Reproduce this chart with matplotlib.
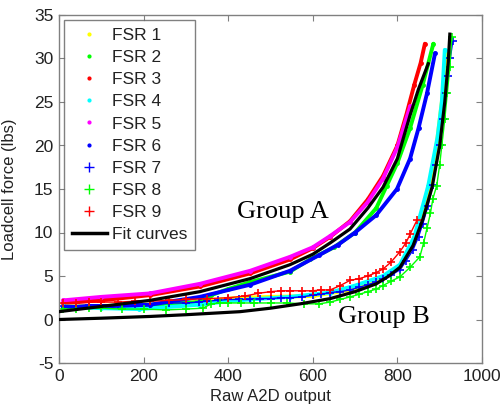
import matplotlib
matplotlib.use("Agg")
import matplotlib.pyplot as plt
from matplotlib.lines import Line2D

plt.rcParams['font.family'] = ['Liberation Sans', 'DejaVu Sans']
plt.rcParams['axes.unicode_minus'] = False

# ---------------- data ----------------
# Group A sensors
fsr3_x = [10, 100, 215, 333, 452, 546, 600, 641, 688, 730, 766, 800, 822, 840, 855, 865]
fsr3_y = [1.9, 2.2, 2.8, 3.8, 5.3, 6.9, 8.2, 9.5, 11.3, 13.8, 16.5, 20.0, 23.7, 27.0, 29.5, 31.7]

fsr5_x = [10, 100, 215, 333, 452, 546, 600, 641, 688, 730, 766, 800, 830]
fsr5_y = [2.2, 2.6, 3.0, 4.1, 5.6, 7.2, 8.3, 9.6, 11.2, 13.5, 16.2, 19.8, 24.5]

fsr6_x = [10, 100, 215, 333, 452, 546, 615, 660, 700, 750, 799, 830, 850, 870, 889]
fsr6_y = [1.4, 1.5, 1.7, 2.6, 4.0, 5.6, 7.4, 8.6, 10.0, 12.0, 15.0, 18.5, 22.0, 26.0, 30.6]

fsr2_x = [10, 100, 215, 330, 360, 400, 452, 546, 593, 650, 700, 750, 775, 800, 830, 860, 885]
fsr2_y = [1.3, 1.4, 1.6, 2.0, 2.8, 3.5, 4.3, 5.5, 6.9, 8.3, 10.0, 12.8, 15.4, 18.0, 22.0, 27.0, 31.7]

# Group B sensors
fsr1_x = [20, 150, 250, 330, 400, 428, 500, 600, 700, 766, 806, 840, 870, 890, 905, 918]
fsr1_y = [1.5, 1.6, 1.8, 2.0, 2.4, 2.5, 2.6, 2.7, 3.5, 4.8, 6.1, 9.3, 14.0, 19.0, 25.0, 30.5]

fsr4_x = [10, 100, 189, 250, 330, 400, 452, 546, 641, 700, 766, 806, 840, 873, 895, 905, 912]
fsr4_y = [1.5, 1.3, 1.2, 1.4, 1.7, 2.1, 2.3, 2.6, 3.1, 3.9, 5.0, 6.3, 9.5, 15.4, 21.0, 25.0, 31.0]

fsr7_x = [10, 40, 70, 100, 140, 180, 215, 260, 300, 330, 350, 375, 400, 425, 452, 475, 500,
          525, 546, 575, 600, 620, 641, 665, 688, 710, 730, 750, 766, 785, 806, 820, 837,
          850, 860, 872, 884, 892, 900, 908, 915, 920, 925, 931]
fsr7_y = [1.6, 1.6, 1.7, 1.7, 1.7, 1.8, 1.8, 1.9, 1.9, 2.0, 2.1, 2.2, 2.3, 2.3, 2.3, 2.4, 2.4,
          2.5, 2.5, 2.6, 2.8, 2.9, 3.1, 3.2, 3.4, 3.7, 4.0, 4.3, 4.6, 5.1, 5.7, 6.7, 8.0,
          9.5, 11.0, 13.0, 15.5, 17.8, 20.0, 23.0, 26.0, 28.0, 30.0, 32.0]

fsr8_x = [10, 40, 70, 100, 150, 200, 253, 300, 340, 360, 380, 400, 430, 460, 500, 540, 580,
          615, 641, 665, 688, 710, 730, 750, 766, 785, 806, 830, 853, 862, 870, 878, 884,
          893, 900, 905, 912, 918, 924, 929]
fsr8_y = [1.2, 1.2, 1.3, 1.3, 1.2, 1.2, 1.1, 1.2, 1.3, 1.8, 1.9, 1.9, 1.9, 1.9, 1.9, 1.9, 1.8,
          1.8, 2.0, 2.3, 2.6, 2.9, 3.2, 3.5, 3.9, 4.4, 4.9, 6.0, 7.2, 8.8, 10.5, 12.2, 13.9,
          15.4, 17.8, 20.0, 23.0, 26.0, 29.0, 32.5]

fsr9_x = [10, 40, 70, 100, 140, 180, 215, 260, 300, 350, 400, 440, 470, 500, 525, 546, 575,
          600, 620, 641, 665, 688, 710, 730, 750, 766, 785, 806, 820, 830, 846]
fsr9_y = [1.9, 1.9, 2.0, 2.0, 2.0, 2.1, 2.1, 2.2, 2.3, 2.4, 2.5, 2.7, 3.0, 3.2, 3.3, 3.3, 3.3,
          3.3, 3.4, 3.4, 3.9, 4.5, 4.7, 5.0, 5.4, 5.8, 6.6, 7.8, 8.8, 9.8, 11.4]

# Fit curves
fitA_x = [0, 100, 215, 333, 452, 546, 600, 641, 688, 730, 766, 800, 830, 850, 873]
fitA_y = [0.9, 1.5, 2.2, 3.2, 4.7, 6.3, 7.5, 8.8, 10.4, 12.8, 15.2, 18.5, 23.5, 26.5, 29.4]

fitB_x = [0, 100, 215, 300, 428, 500, 570, 641, 700, 750, 780, 806, 837, 860, 882, 900, 912, 920, 924]
fitB_y = [0.0, 0.15, 0.35, 0.55, 0.9, 1.3, 1.8, 2.4, 3.2, 4.1, 5.0, 6.0, 8.5, 11.5, 15.2, 20.0, 25.0, 29.5, 32.8]

series = [
    ("FSR 1", fsr1_x, fsr1_y, "#ffff00", "."),
    ("FSR 2", fsr2_x, fsr2_y, "#00ff00", "."),
    ("FSR 3", fsr3_x, fsr3_y, "#ff0000", "."),
    ("FSR 4", fsr4_x, fsr4_y, "#00ffff", "."),
    ("FSR 5", fsr5_x, fsr5_y, "#ff00ff", "."),
    ("FSR 6", fsr6_x, fsr6_y, "#0000ff", "."),
    ("FSR 7", fsr7_x, fsr7_y, "#0000ff", "+"),
    ("FSR 8", fsr8_x, fsr8_y, "#00ff00", "+"),
    ("FSR 9", fsr9_x, fsr9_y, "#ff0000", "+"),
]

# ---------------- figure ----------------
fig = plt.figure(figsize=(5.03, 4.04), dpi=100)
ax = fig.add_axes([59/503, 41/404, 423/503, 348/404])

handles = []
for name, xs, ys, col, mk in series:
    if mk == ".":
        ax.plot(xs, ys, '-', color=col, lw=2.8, solid_capstyle='round', zorder=2)
        ax.plot(xs, ys, '.', color=col, ms=5, zorder=2)
    else:
        ax.plot(xs, ys, '-', color=col, lw=1.0, zorder=2)
        ax.plot(xs, ys, '+', color=col, ms=6, mew=1.2, zorder=2)
    handles.append(Line2D([], [], ls='none', marker=mk, color=col,
                          ms=(4 if mk == "." else 7), mew=1.0, label=name))

ax.plot(fitA_x, fitA_y, '-', color='black', lw=2.3, zorder=3)
ax.plot(fitB_x, fitB_y, '-', color='black', lw=2.3, zorder=3)
handles.append(Line2D([], [], color='black', lw=2.5, label='Fit curves'))

ax.set_xlim(0, 1000)
ax.set_ylim(-5, 35)
ax.set_xticks([0, 200, 400, 600, 800, 1000])
ax.set_yticks([-5, 0, 5, 10, 15, 20, 25, 30, 35])

for s in ax.spines.values():
    s.set_color('#808080')
    s.set_linewidth(1.0)
ax.tick_params(direction='in', length=4, width=0.8, color='#808080',
               top=True, right=True, labelsize=12.5, labelcolor='#222222', pad=4)

ax.set_xlabel("Raw A2D output", fontsize=12, color='#222222', labelpad=4)
ax.set_ylabel("Loadcell force (lbs)", fontsize=12, color='#222222')
ax.yaxis.set_label_coords(-0.10, 0.5)

ax.text(530, 12.4, "Group A", family='Liberation Serif', fontsize=19,
        ha='center', va='center', color='black')
ax.text(768, 0.3, "Group B", family='Liberation Serif', fontsize=19,
        ha='center', va='center', color='black')

leg = ax.legend(handles=handles, loc='upper left', fontsize=12.5,
                frameon=True, fancybox=False, edgecolor='#606060',
                borderaxespad=0.3, labelspacing=0.40, handlelength=2.0,
                handletextpad=0.3, borderpad=0.45)
leg.get_frame().set_linewidth(1.0)
for t in leg.get_texts():
    t.set_color('#222222')

fig.savefig("out.png", dpi=100)
